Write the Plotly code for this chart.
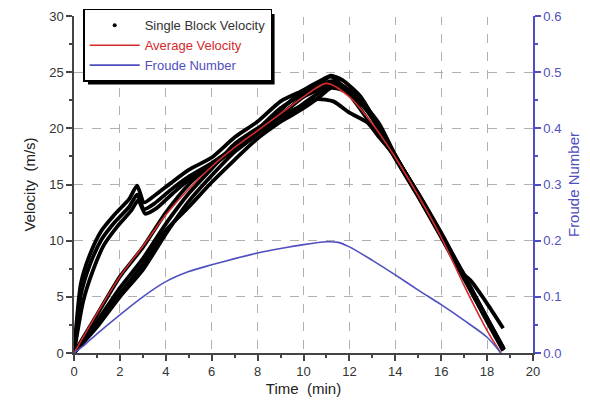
"""Single block velocity, average velocity and Froude number over time."""

import plotly.graph_objects as go

# single block velocity tracks (m/s), one time list per block (min)
block_1_t = [0, 0.3, 0.7, 1.2, 1.8, 2.4, 2.75, 3.05, 3.5, 4.2, 5, 6, 7, 8, 9, 9.8, 10.5, 11.2, 11.8, 12.5, 13.3, 14, 15, 16, 17, 18, 18.75]
block_1_v = [0, 6.2, 8.8, 10.9, 12.4, 13.7, 14.9, 13.4, 14.0, 15.1, 16.3, 17.4, 19.2, 20.6, 22.4, 23.2, 23.8, 24.6, 23.6, 22.2, 20.2, 17.6, 14.0, 10.4, 6.8, 3.0, 0.3]

block_2_t = [0, 0.3, 0.7, 1.2, 1.8, 2.4, 2.75, 3.05, 3.5, 4.2, 5, 6, 7, 8, 9, 10, 10.6, 11.3, 12, 12.8, 13.3, 14, 15, 16, 17, 18, 18.7]
block_2_v = [0, 5.2, 7.9, 10.1, 11.7, 13.0, 14.1, 12.8, 13.3, 14.5, 15.7, 16.9, 18.3, 19.6, 21.0, 22.1, 22.6, 22.4, 21.4, 20.5, 19.2, 17.5, 14.1, 10.5, 6.9, 3.1, 0.4]

block_3_t = [0, 0.4, 0.8, 1.3, 1.9, 2.5, 2.8, 3.1, 3.6, 4.3, 5, 6, 7, 8, 9, 10, 10.7, 11.3, 12, 13, 14, 15, 16, 17, 17.3, 18, 18.7]
block_3_v = [0, 4.6, 7.2, 9.6, 11.3, 12.7, 13.6, 12.4, 12.9, 14.2, 15.4, 16.6, 18.2, 19.9, 21.8, 23.1, 23.9, 24.2, 23.0, 20.2, 17.4, 14.2, 10.7, 7.0, 6.4, 4.4, 2.2]

lower_t = [0, 1, 2, 3, 4, 5, 6, 7, 8, 9, 10, 10.7, 11.2, 11.7, 12.5, 13.3, 14, 15, 16, 17, 18, 18.7]
block_4_v = [0, 3.4, 6.8, 9.4, 12.5, 15.0, 16.8, 18.3, 19.6, 20.6, 21.8, 22.8, 23.6, 23.4, 22.4, 20.4, 17.6, 14.1, 10.5, 6.8, 3.0, 0.4]
block_5_v = [0, 2.8, 5.8, 8.4, 11.5, 14.2, 16.4, 18.6, 20.0, 21.2, 22.8, 23.5, 24.0, 23.8, 22.6, 20.1, 17.4, 14.0, 10.4, 6.7, 2.9, 0.3]
block_6_v = [0, 2.3, 5.0, 7.4, 10.6, 13.5, 15.8, 17.9, 19.5, 21.6, 23.4, 24.2, 24.7, 24.3, 22.8, 20.0, 17.3, 13.9, 10.3, 6.6, 2.8, 0.2]
block_7_v = [0, 2.6, 5.3, 7.9, 10.9, 13.0, 15.2, 17.2, 19.1, 20.6, 22.2, 23.2, 23.8, 23.5, 22.3, 19.9, 17.5, 14.2, 10.6, 6.9, 3.1, 0.5]

# average velocity (m/s)
avg_t = [0, 1, 2, 3, 4, 5, 6, 7, 8, 9, 10, 11, 12, 13, 14, 15, 16, 17, 18, 18.6]
avg_v = [0, 3.5, 6.8, 9.5, 12.3, 14.6, 16.6, 18.3, 19.8, 21.3, 22.8, 24.0, 22.8, 20.4, 17.4, 14.0, 10.3, 6.0, 2.0, 0]

# Froude number
fr_t = [0, 0.5, 1, 2, 3, 4, 5, 6, 7, 8, 9, 10, 11, 11.5, 12, 13, 14, 15, 16, 17, 18, 18.6]
fr = [0, 0.016, 0.034, 0.068, 0.100, 0.127, 0.145, 0.157, 0.168, 0.178, 0.186, 0.193, 0.198, 0.197, 0.189, 0.165, 0.139, 0.112, 0.086, 0.058, 0.028, 0]

BLUE = "#4f4fbf"
RED = "#d42a2a"
FONT = "Liberation Sans, Arial, sans-serif"

blocks = [
    (block_1_t, block_1_v),
    (block_2_t, block_2_v),
    (block_3_t, block_3_v),
    (lower_t, block_4_v),
    (lower_t, block_5_v),
    (lower_t, block_6_v),
    (lower_t, block_7_v),
]

fig = go.Figure()

for t, v in blocks:
    fig.add_trace(
        go.Scatter(
            x=t, y=v, mode="lines", showlegend=False,
            line=dict(color="black", width=3.8, shape="spline", smoothing=0.6),
        )
    )

# legend entry for the block tracks, drawn as a dot
fig.add_trace(
    go.Scatter(
        x=[None], y=[None], mode="markers", name="Single Block Velocity",
        marker=dict(color="black", size=4),
    )
)
fig.add_trace(
    go.Scatter(
        x=avg_t, y=avg_v, mode="lines",
        name=f"<span style='color:{RED}'>Average Velocity</span>",
        line=dict(color=RED, width=1.6, shape="spline", smoothing=0.8),
    )
)
fig.add_trace(
    go.Scatter(
        x=fr_t, y=fr, mode="lines", yaxis="y2",
        name=f"<span style='color:{BLUE}'>Froude Number</span>",
        line=dict(color=BLUE, width=1.6, shape="spline", smoothing=0.8),
    )
)

grid = dict(showgrid=True, gridcolor="#b0b0b0", griddash="dash", gridwidth=1)

# the page body adds an 8px offset, so the figure is 582x402
fig.update_layout(
    width=582,
    height=402,
    margin=dict(l=66, r=57, t=8, b=57, autoexpand=False),
    paper_bgcolor="white",
    plot_bgcolor="white",
    font=dict(family=FONT, size=13, color="#333333"),
    showlegend=True,
    legend=dict(
        x=0.02, y=1.021, xanchor="left", yanchor="top",
        bgcolor="white", bordercolor="black", borderwidth=1.5,
        font=dict(size=13, color="#333333"),
        tracegroupgap=0, itemwidth=50,
    ),
    xaxis=dict(
        range=[0, 20], dtick=2, ticks="outside", ticklen=6, tickwidth=1.5,
        tickcolor="#444444", showline=True, linecolor="#444444", linewidth=1.5,
        zeroline=False, automargin=False,
        minor=dict(dtick=1, ticks="outside", ticklen=3, tickcolor="#444444", showgrid=False),
        title=dict(text="Time  (min)", font=dict(size=15, color="#222222"), standoff=5),
        **grid,
    ),
    yaxis=dict(
        range=[0, 30], dtick=5, ticks="outside", ticklen=6, tickwidth=1.5,
        tickcolor="#444444", showline=True, linecolor="#444444", linewidth=1.5,
        zeroline=False, automargin=False,
        minor=dict(dtick=2.5, ticks="outside", ticklen=3, tickcolor="#444444", showgrid=False),
        title=dict(text="Velocity  (m/s)", font=dict(size=15, color="#222222"), standoff=10),
        **grid,
    ),
    yaxis2=dict(
        range=[0, 0.6], dtick=0.1, tickformat=".1f", overlaying="y", side="right",
        ticks="outside", ticklen=6, tickwidth=1.5, tickcolor=BLUE,
        showline=True, linecolor=BLUE, linewidth=1.5, zeroline=False, showgrid=False,
        automargin=False, tickfont=dict(color=BLUE),
        minor=dict(dtick=0.05, ticks="outside", ticklen=3, tickcolor=BLUE),
        title=dict(text="Froude Number", font=dict(size=15, color=BLUE), standoff=8),
    ),
)

# drop shadow behind the legend box
fig.add_shape(
    type="rect", xref="paper", yref="paper",
    x0=0.0305, x1=0.437, y0=0.797, y1=1.006,
    fillcolor="black", line=dict(width=0), layer="above",
)
# hide the gridline on the open top edge
fig.add_shape(
    type="line", xref="paper", yref="paper",
    x0=0.445, x1=0.997, y0=1, y1=1,
    line=dict(color="white", width=2), layer="above",
)

fig.write_html("out.html")
